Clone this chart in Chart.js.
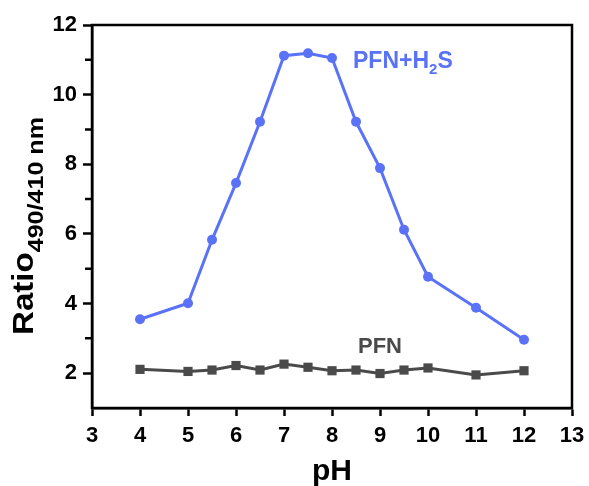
<!DOCTYPE html>
<html>
<head>
    <title>Ratio vs pH</title>
    <script src="https://cdn.jsdelivr.net/npm/chart.js"></script>
    <style>
        html, body {
            margin: 0;
            padding: 0;
            background-color: white;
        }
        .chart-box {
            width: 589px;
            height: 486px;
        }
    </style>
</head>
<body>
    <div class="chart-box">
        <canvas id="phChart" width="589" height="486"></canvas>
    </div>

    <script>
        // Data
        const phValues = [4, 5, 5.5, 6, 6.5, 7, 7.5, 8, 8.5, 9, 9.5, 10, 11, 12];
        const ratioPfnH2S = [3.55, 4.01, 5.83, 7.46, 9.22, 11.12, 11.19, 11.05, 9.22, 7.89, 6.12, 4.77, 3.88, 2.96];
        const ratioPfn = [2.11, 2.05, 2.09, 2.22, 2.09, 2.26, 2.17, 2.07, 2.09, 1.99, 2.09, 2.15, 1.95, 2.07];
        const xTicks = [3, 4, 5, 6, 7, 8, 9, 10, 11, 12, 13];
        const yTicks = [2, 4, 6, 8, 10, 12];
        const yMinorTicks = [3, 5, 7, 9, 11];

        const BLUE = '#5a72f7';
        const GRAY = '#4a4a4a';
        const FONT = '"Liberation Sans", Arial, sans-serif';

        function toPoints(ys) {
            return phValues.map((x, i) => ({ x: x, y: ys[i] }));
        }

        // Frame, minor ticks, series labels and axis titles
        const decorations = {
            id: 'decorations',
            afterDraw(chart) {
                const ctx = chart.ctx;
                const area = chart.chartArea;
                const yScale = chart.scales.y;
                ctx.save();

                ctx.strokeStyle = '#000';
                ctx.lineWidth = 2.5;
                ctx.strokeRect(area.left, area.top, area.right - area.left, area.bottom - area.top);

                // minor y ticks
                ctx.beginPath();
                yMinorTicks.forEach(v => {
                    const py = yScale.getPixelForValue(v);
                    ctx.moveTo(area.left - 7, py);
                    ctx.lineTo(area.left, py);
                });
                ctx.stroke();

                // series labels
                ctx.textBaseline = 'alphabetic';
                ctx.textAlign = 'left';
                ctx.fillStyle = BLUE;
                ctx.font = 'bold 23px ' + FONT;
                let x = 353;
                ctx.fillText('PFN+H', x, 68);
                x += ctx.measureText('PFN+H').width;
                ctx.font = 'bold 15px ' + FONT;
                ctx.fillText('2', x, 74);
                x += ctx.measureText('2').width;
                ctx.font = 'bold 23px ' + FONT;
                ctx.fillText('S', x, 68);

                ctx.fillStyle = GRAY;
                ctx.font = 'bold 22px ' + FONT;
                ctx.fillText('PFN', 358, 353);

                // x title
                ctx.fillStyle = '#000';
                ctx.textAlign = 'center';
                ctx.font = 'bold 30px ' + FONT;
                ctx.fillText('pH', (area.left + area.right) / 2, 480);

                // y title with subscript
                ctx.translate(33, 226);
                ctx.rotate(-Math.PI / 2);
                ctx.textAlign = 'left';
                ctx.font = 'bold 29px ' + FONT;
                const mainW = ctx.measureText('Ratio').width;
                ctx.font = 'bold 22px ' + FONT;
                const subW = ctx.measureText('490/410 nm').width;
                const target = 218;
                const s = target / (mainW + subW);
                ctx.scale(s, 1);
                const start = -(mainW + subW) / 2;
                ctx.font = 'bold 29px ' + FONT;
                ctx.fillText('Ratio', start, 0);
                ctx.font = 'bold 22px ' + FONT;
                ctx.fillText('490/410 nm', start + mainW, 10);

                ctx.restore();
            }
        };

        const ctx = document.getElementById('phChart').getContext('2d');
        const chart = new Chart(ctx, {
            type: 'scatter',
            data: {
                datasets: [{
                    label: 'PFN+H2S',
                    data: toPoints(ratioPfnH2S),
                    showLine: true,
                    borderColor: BLUE,
                    backgroundColor: BLUE,
                    borderWidth: 3,
                    pointStyle: 'circle',
                    pointRadius: 5,
                    pointBorderWidth: 0
                }, {
                    label: 'PFN',
                    data: toPoints(ratioPfn),
                    showLine: true,
                    borderColor: GRAY,
                    backgroundColor: GRAY,
                    borderWidth: 3,
                    pointStyle: 'rect',
                    pointRadius: 6.5,
                    pointBorderWidth: 0
                }]
            },
            options: {
                responsive: false,
                animation: false,
                devicePixelRatio: 1,
                layout: {
                    padding: { top: 25, right: 17, left: 0, bottom: 0 }
                },
                plugins: {
                    legend: { display: false },
                    tooltip: { enabled: false }
                },
                scales: {
                    x: {
                        type: 'linear',
                        min: 3,
                        max: 13,
                        afterBuildTicks: axis => {
                            axis.ticks = xTicks.map(v => ({ value: v }));
                        },
                        afterFit: axis => {
                            axis.height = 78;
                            axis.paddingLeft = 0;
                            axis.paddingRight = 0;
                        },
                        grid: {
                            drawOnChartArea: false,
                            drawTicks: true,
                            tickLength: 8,
                            tickWidth: 2.5,
                            tickColor: '#000'
                        },
                        border: { display: true, color: '#000', width: 2.5 },
                        ticks: {
                            color: '#000',
                            padding: 7,
                            maxRotation: 0,
                            font: { family: FONT, size: 22, weight: 'bold' }
                        }
                    },
                    y: {
                        type: 'linear',
                        min: 1,
                        max: 12,
                        afterBuildTicks: axis => {
                            axis.ticks = yTicks.map(v => ({ value: v }));
                        },
                        afterFit: axis => {
                            axis.width = 92;
                            axis.paddingTop = 0;
                            axis.paddingBottom = 0;
                        },
                        grid: {
                            drawOnChartArea: false,
                            drawTicks: true,
                            tickLength: 9,
                            tickWidth: 2.5,
                            tickColor: '#000'
                        },
                        border: { display: true, color: '#000', width: 2.5 },
                        ticks: {
                            color: '#000',
                            padding: 6,
                            font: { family: FONT, size: 22, weight: 'bold' }
                        }
                    }
                }
            },
            plugins: [decorations]
        });
    </script>
</body>
</html>
